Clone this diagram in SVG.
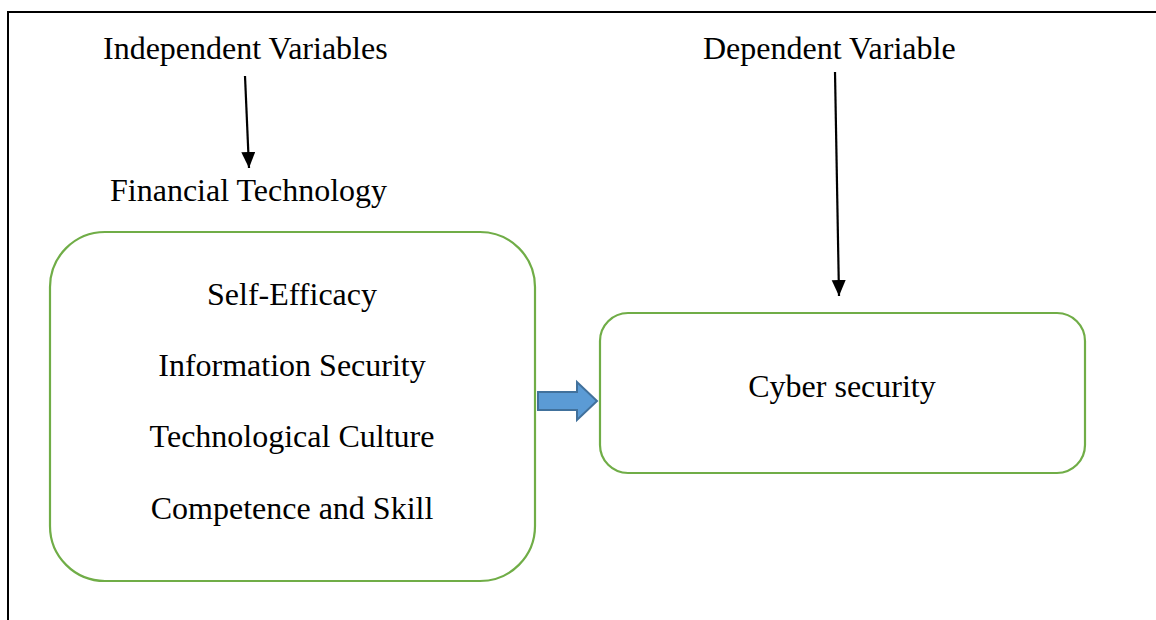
<svg xmlns="http://www.w3.org/2000/svg" width="1156" height="620" viewBox="0 0 1156 620">
<style>
text{font-family:"Liberation Serif","Times New Roman",serif;font-size:32px;fill:#000}
.box{fill:none;stroke:#70AD47;stroke-width:2.2}
.conn{stroke:#000;stroke-width:2.2;fill:none}
</style>
<defs>
<marker id="ah" markerWidth="18" markerHeight="16" refX="16" refY="7" orient="auto" markerUnits="userSpaceOnUse">
<path d="M0,0 L16,7 L0,14 z" fill="#000"/>
</marker>
</defs>
<rect width="1156" height="620" fill="#fff"/>
<g id="frame">
<path d="M8,620 L8,12 L1156,12" fill="none" stroke="#000" stroke-width="2"/>
</g>
<g id="label-independent"><text x="103" y="59">Independent Variables</text></g>
<g id="label-dependent"><text x="703" y="59">Dependent Variable</text></g>
<g id="label-fintech"><text x="110" y="201">Financial Technology</text></g>
<g id="node-independent">
<rect class="box" x="50" y="232" width="485" height="349" rx="55" ry="55"/>
<text x="292" y="305" text-anchor="middle">Self-Efficacy</text>
<text x="292" y="376" text-anchor="middle">Information Security</text>
<text x="292" y="447" text-anchor="middle">Technological Culture</text>
<text x="292" y="519" text-anchor="middle">Competence and Skill</text>
</g>
<g id="node-dependent">
<rect class="box" x="600" y="313" width="485" height="160" rx="28" ry="28"/>
<text x="842" y="397" text-anchor="middle">Cyber security</text>
</g>
<g id="connectors">
<line class="conn" x1="245" y1="76" x2="249" y2="168" marker-end="url(#ah)"/>
<line class="conn" x1="835" y1="72" x2="839" y2="296" marker-end="url(#ah)"/>
<path d="M538,392 L577,392 L577,382 L597,401 L577,420 L577,410 L538,410 Z" fill="#5B9BD5" stroke="#41719C" stroke-width="2"/>
</g>
</svg>
